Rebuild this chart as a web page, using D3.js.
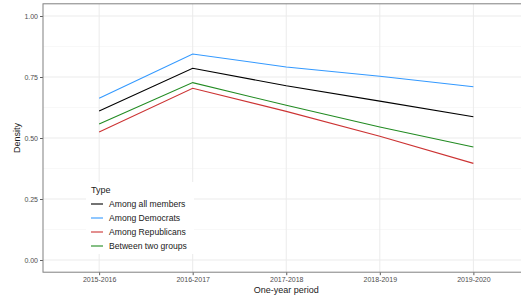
<!DOCTYPE html>
<html>
<head>
<meta charset="utf-8">
<script src="https://cdn.jsdelivr.net/npm/d3@7"></script>
<style>
  body { margin: 0; background: #fff; }
  svg { display: block; font-family: "Liberation Sans", Arial, sans-serif; }
</style>
</head>
<body>
<div id="chart"></div>
<script>
const periods = ['2015-2016', '2016-2017', '2017-2018', '2018-2019', '2019-2020'];
const seriesNames = ['Among all members', 'Among Democrats', 'Among Republicans', 'Between two groups'];
const allMembers  = [0.611, 0.786, 0.714, 0.651, 0.587];
const democrats   = [0.663, 0.844, 0.791, 0.753, 0.710];
const republicans = [0.525, 0.704, 0.609, 0.507, 0.396];
const betweenTwo  = [0.557, 0.727, 0.634, 0.545, 0.463];
const yTicks = [0, 0.25, 0.5, 0.75, 1];
const yMinor = [0.125, 0.375, 0.625, 0.875];
const colours = ['#000000', '#3399ff', '#cc3333', '#228b22'];

const series = [allMembers, democrats, republicans, betweenTwo];

const width = 521;
const height = 297;
const panel = { left: 43, top: 3.8, right: 529.5, bottom: 272.2 };

const svg = d3.select('#chart').append('svg')
    .attr('width', width)
    .attr('height', height);

// discrete x with ggplot's 0.6 expansion
const xScale = d3.scalePoint()
    .domain(periods)
    .range([panel.left, panel.right])
    .padding(0.6);

const yScale = d3.scaleLinear()
    .domain([-0.05, 1.05])
    .range([panel.bottom, panel.top]);

// grid
const grid = svg.append('g');
grid.selectAll('.minor')
    .data(yMinor)
    .enter().append('line')
      .attr('x1', panel.left).attr('x2', panel.right)
      .attr('y1', d => yScale(d)).attr('y2', d => yScale(d))
      .attr('stroke', '#f4f4f4').attr('stroke-width', 0.6);
grid.selectAll('.hmaj')
    .data(yTicks)
    .enter().append('line')
      .attr('x1', panel.left).attr('x2', panel.right)
      .attr('y1', d => yScale(d)).attr('y2', d => yScale(d))
      .attr('stroke', '#ebebeb').attr('stroke-width', 1);
grid.selectAll('.vmaj')
    .data(periods)
    .enter().append('line')
      .attr('x1', d => xScale(d)).attr('x2', d => xScale(d))
      .attr('y1', panel.top).attr('y2', panel.bottom)
      .attr('stroke', '#ebebeb').attr('stroke-width', 1);

// lines
const line = d3.line()
    .x((d, i) => xScale(periods[i]))
    .y(d => yScale(d));

svg.append('g').selectAll('path')
    .data(series)
    .enter().append('path')
      .attr('d', line)
      .attr('fill', 'none')
      .attr('stroke', (d, i) => colours[i])
      .attr('stroke-width', 1.1);

// legend
const legend = svg.append('g').attr('transform', 'translate(86, 182)');
legend.append('rect')
    .attr('width', 108).attr('height', 72)
    .attr('fill', '#fff');
legend.append('text')
    .attr('x', 5).attr('y', 10.5)
    .attr('font-size', 9)
    .attr('fill', '#1a1a1a')
    .text('Type');
const items = legend.selectAll('.item')
    .data(seriesNames)
    .enter().append('g')
      .attr('transform', (d, i) => `translate(0, ${22 + i * 14})`);
items.append('line')
    .attr('x1', 5).attr('x2', 17)
    .attr('stroke', (d, i) => colours[i])
    .attr('stroke-width', 1.1);
items.append('text')
    .attr('x', 23).attr('y', 3.2)
    .attr('font-size', 8.6)
    .attr('fill', '#1a1a1a')
    .text(d => d);

// axes
const xAxis = svg.append('g')
    .attr('transform', `translate(0, ${panel.bottom})`)
    .call(d3.axisBottom(xScale).tickSize(3).tickPadding(2));
const yAxis = svg.append('g')
    .attr('transform', `translate(${panel.left}, 0)`)
    .call(d3.axisLeft(yScale).tickValues(yTicks).tickFormat(d3.format('.2f')).tickSize(3).tickPadding(2));
[xAxis, yAxis].forEach(ax => {
    ax.select('.domain').remove();
    ax.selectAll('line').attr('stroke', '#333').attr('stroke-width', 0.8);
    ax.selectAll('text').attr('fill', '#4d4d4d').attr('font-size', 7)
        .attr('font-family', '"Liberation Sans", Arial, sans-serif');
});

// panel border
svg.append('rect')
    .attr('x', panel.left).attr('y', panel.top)
    .attr('width', panel.right - panel.left)
    .attr('height', panel.bottom - panel.top)
    .attr('fill', 'none')
    .attr('stroke', '#808080')
    .attr('stroke-width', 1);

// axis titles
svg.append('text')
    .attr('x', (panel.left + panel.right) / 2)
    .attr('y', 293)
    .attr('text-anchor', 'middle')
    .attr('font-size', 9)
    .attr('fill', '#1a1a1a')
    .text('One-year period');

svg.append('text')
    .attr('transform', `translate(20, ${(panel.top + panel.bottom) / 2}) rotate(-90)`)
    .attr('text-anchor', 'middle')
    .attr('font-size', 9)
    .attr('fill', '#1a1a1a')
    .text('Density');
</script>
</body>
</html>
